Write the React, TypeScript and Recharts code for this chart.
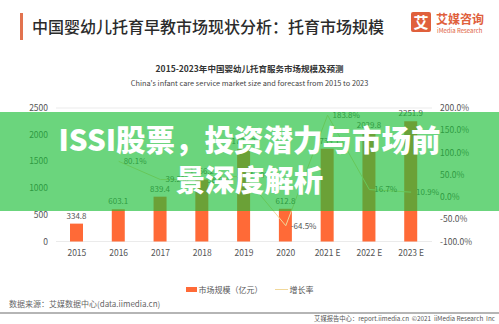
import { ComposedChart, Bar, Line, XAxis, YAxis, CartesianGrid, LabelList, Legend } from 'recharts';

const years = ['2015', '2016', '2017', '2018', '2019', '2020', '2021 E', '2022 E', '2023 E'];
const marketSize = [334.8, 603.1, 839.4, 1166.2, 1726.2, 612.8, 1739.1, 2029.8, 2251.9];
const growthRate: (number | null)[] = [null, 80.1, 39.2, 38.9, 48.0, -64.5, 183.8, 16.7, 10.9];
const leftTicks = [0, 500, 1000, 1500, 2000, 2500];
const rightTicks = [-100, -50, 0, 50, 100, 150, 200];

const data = years.map((y, i) => ({ year: y, size: marketSize[i], rate: growthRate[i] }));

const FONT = '"Noto Sans CJK SC", "Noto Sans", sans-serif';
const ORANGE = '#ff6a37';
const LINE = '#f1d89a';

const tick = { fontSize: 8.5, fill: '#555', fontFamily: FONT };

const renderLegend = () => (
  <div style={{ display: 'flex', justifyContent: 'center', alignItems: 'center', fontSize: 8, color: '#555', fontFamily: FONT }}>
    <span style={{ width: 11, height: 5, background: ORANGE, marginRight: 2 }} />
    <span style={{ marginRight: 12 }}>市场规模（亿元）</span>
    <span style={{ width: 13, height: 1, background: LINE, marginRight: 2 }} />
    <span>增长率</span>
  </div>
);

export default function App() {
  return (
    <div style={{ position: 'absolute', left: 0, top: 0, width: 499, height: 324, background: '#fff', overflow: 'hidden', fontFamily: FONT }}>
      {/* header */}
      <div style={{ position: 'absolute', left: 20, top: 13, width: 3, height: 27, background: '#e2734f' }} />
      <div style={{ position: 'absolute', left: 32, top: 15, fontSize: 16, fontWeight: 500, color: '#2b2b2b', lineHeight: '22px', whiteSpace: 'nowrap' }}>
        中国婴幼儿托育早教市场现状分析：托育市场规模
      </div>
      <div style={{ position: 'absolute', left: 411, top: 12, width: 20, height: 20, background: '#e0603c', borderRadius: 2, color: '#fff', fontSize: 15, fontWeight: 700, lineHeight: '20px', textAlign: 'center' }}>艾</div>
      <div style={{ position: 'absolute', left: 436, top: 12, fontSize: 12, fontWeight: 700, color: '#e0603c', lineHeight: '14px', whiteSpace: 'nowrap' }}>艾媒咨询</div>
      <div style={{ position: 'absolute', left: 437, top: 27, fontSize: 6, color: '#e0603c', lineHeight: '8px', whiteSpace: 'nowrap' }}>iMedia Research</div>

      {/* chart titles */}
      <div style={{ position: 'absolute', left: 0, width: 499, top: 62, textAlign: 'center', fontSize: 8.5, fontWeight: 700, color: '#333', lineHeight: '12px' }}>
        2015-2023年中国婴幼儿托育服务市场规模及预测
      </div>
      <div style={{ position: 'absolute', left: 0, width: 499, top: 78, textAlign: 'center', fontSize: 7.4, color: '#444', lineHeight: '10px' }}>
        China's infant care service market size and forecast from 2015 to 2023
      </div>

      <div style={{ position: 'absolute', left: 0, top: 0 }}>
        <ComposedChart width={499} height={324} data={data} margin={{ top: 108, right: 17, bottom: 41.5, left: 10 }}>
          <CartesianGrid vertical={false} stroke="#ebebeb" />
          <XAxis dataKey="year" tick={tick} tickLine={false} axisLine={false} height={30} interval={0} />
          <YAxis yAxisId="l" domain={[0, 2500]} ticks={leftTicks} tick={tick} tickLine={false} axisLine={false} width={46} />
          <YAxis yAxisId="r" orientation="right" domain={[-100, 200]} ticks={rightTicks} tick={tick} tickLine={false} axisLine={false} width={50}
            tickFormatter={(v: number) => v.toFixed(1) + '%'} />
          <Bar yAxisId="l" dataKey="size" fill={ORANGE} barSize={13} isAnimationActive={false}>
            <LabelList dataKey="size" position="top" fill="#555" fontSize={8} fontFamily={FONT} formatter={(v: number) => v.toFixed(1)} />
          </Bar>
          <Line yAxisId="r" dataKey="rate" stroke={LINE} strokeWidth={1} dot={false} isAnimationActive={false} legendType="plainline">
            <LabelList dataKey="rate" position="right" fill="#555" fontSize={8} fontFamily={FONT}
              formatter={(v: number | null) => (v == null ? '' : v.toFixed(1) + '%')} />
          </Line>
          <Legend content={renderLegend} wrapperStyle={{ top: 284, left: 0, width: 499 }} />
        </ComposedChart>
      </div>

      {/* footer */}
      <div style={{ position: 'absolute', left: 9, top: 298, fontSize: 8, color: '#666', lineHeight: '11px', whiteSpace: 'nowrap' }}>
        数据来源：艾媒数据中心(data.iimedia.cn)
      </div>
      <div style={{ position: 'absolute', left: 0, top: 312, width: 499, height: 2, background: '#b5b5b5' }} />
      <div style={{ position: 'absolute', right: 4, top: 314, fontSize: 6.3, color: '#555', lineHeight: '9px', whiteSpace: 'nowrap' }}>
        艾媒报告中心：report.iimedia.cn &nbsp;©2021 &nbsp;iiMedia Research &nbsp;Inc
      </div>

      {/* banner overlay */}
      <div style={{ position: 'absolute', left: 0, top: 112, width: 499, height: 99, background: 'rgba(27,191,55,0.65)' }} />
      <div style={{ position: 'absolute', left: 0, top: 118, width: 499, textAlign: 'center', fontSize: 29.5, fontWeight: 900, color: '#fff', lineHeight: '40px', whiteSpace: 'nowrap' }}>
        ISSI股票，投资潜力与市场前<br />景深度解析
      </div>
    </div>
  );
}
